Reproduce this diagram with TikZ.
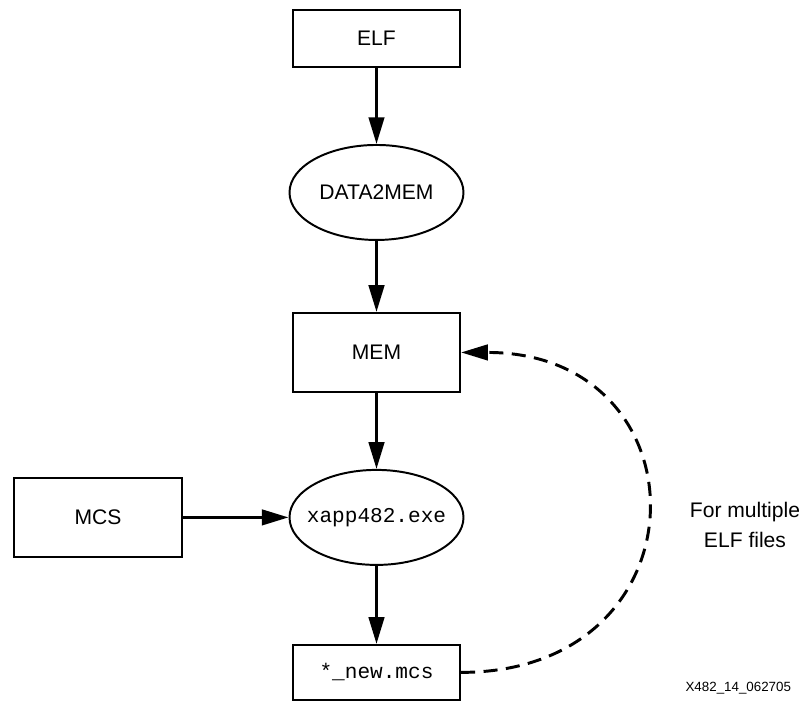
\documentclass[tikz,border=0pt]{standalone}
\usepackage{fontspec}
\setmainfont{Liberation Sans}
\setmonofont{Liberation Mono}
\usetikzlibrary{shapes.geometric, arrows.meta, positioning}

\begin{document}
\begin{tikzpicture}[
      font=\fontsize{15}{21}\selectfont,
      node distance=1.9cm,
      box/.style={rectangle, draw, line width=1.4pt, text centered, inner sep=0pt, minimum width=4.18cm, minimum height=1.425cm},
      tallbox/.style={box, minimum height=1.975cm},
      oval/.style={ellipse, draw, line width=1.4pt, inner sep=0pt, minimum width=4.35cm, minimum height=2.375cm},
      arrow/.style={line width=2.1pt, -{Triangle[length=19pt, width=11pt]}},
      dasharrow/.style={arrow, dash pattern=on 10pt off 6pt}
    ]
      \useasboundingbox (0,0) rectangle (19.975,-17.575);
      \node (elf) [box] at (9.4125,-0.9625) {ELF};
      \node (data2mem) [oval, below=of elf] {\makebox[0pt]{DATA2MEM}};
      \node (mem) [tallbox, below=1.775cm of data2mem] {MEM};
      \node (xapp) [oval, below=of mem] {\makebox[0pt]{\ttfamily xapp482.exe}};
      \node (mcs) [tallbox, left=2.65cm of xapp] {MCS};
      \node (newmcs) [box, minimum height=1.375cm, below=1.95cm of xapp] {\ttfamily *\_new.mcs};
      \node (loop) [align=center] at (18.625,-13.125) {For multiple\\ELF files};
      \node (figid) [anchor=east, font=\fontsize{9.5}{11}\selectfont] at (19.9,-17.2) {X482\_14\_062705};

      \draw [arrow] (elf) -- (data2mem);
      \draw [arrow] (data2mem) -- (mem);
      \draw [arrow] (mem) -- (xapp);
      \draw [arrow] (mcs) -- (xapp);
      \draw [arrow] (xapp) -- (newmcs);
      \draw [dasharrow] (newmcs.east) .. controls +(6.2,0) and +(6.2,0) .. (mem.east);
    \end{tikzpicture}
\end{document}
